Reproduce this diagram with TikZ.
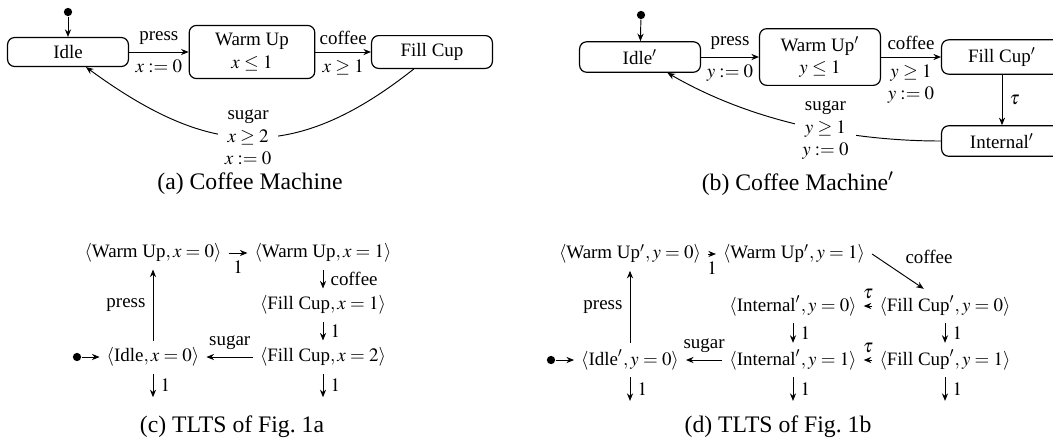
\documentclass[tikz,border=0pt]{standalone}
\usepackage{mathptmx}
\usepackage{fontspec}
\setmainfont{Liberation Serif}
\usetikzlibrary{arrows.meta}
\begin{document}
\begin{tikzpicture}[x=0.422pt, y=-0.422pt,
		arr/.style={-{Stealth[length=3.2pt,width=2.6pt]}},
		locbox/.style={draw, line width=0.5pt, rounded corners=3pt, minimum width=51pt, align=center, font=\footnotesize, inner sep=3.3pt},
		lbl/.style={font=\footnotesize, inner sep=3pt},
		tlts/.style={font=\footnotesize, inner sep=2.8pt},
		initdot/.style={circle, fill, inner sep=0pt, minimum size=3.5pt},
		capt/.style={font=\normalsize}]
		\useasboundingbox (0,0) rectangle (1053,444);
		
		%(a) coffee machine
		\node[initdot] (ai) at (68,12) {};
		\node[locbox] (aidle) at (68,52) {Idle};
		\node[locbox, minimum width=53pt] (awarm) at (252,52) {Warm Up\\$x \le 1$};
		\node[locbox] (afill) at (432,52) {Fill Cup};
		\draw[arr] (ai) -- (aidle);
		\draw[arr] (aidle) -- node[lbl, above]{press} node[lbl, below]{$x := 0$} (awarm);
		\draw[arr] (awarm) -- node[lbl, above]{coffee} node[lbl, below]{$x \ge 1$} (afill);
		\draw[arr] (afill.223) .. controls (290,167) and (205,154) .. node[lbl, fill=white, align=center]{sugar\\$x \ge 2$\\$x := 0$} (aidle.320);
		\node[capt] (capa) at (250,184) {(a) Coffee Machine};
		
		%(b) coffee machine'
		\node[initdot] (bi) at (641,15) {};
		\node[locbox] (bidle) at (640,57) {Idle$'$};
		\node[locbox] (bwarm) at (820,57) {Warm Up$'$\\$y \le 1$};
		\node[locbox] (bfill) at (1002,57) {Fill Cup$'$};
		\node[locbox] (bint) at (1002,141) {Internal$'$};
		\draw[arr] (bi) -- (bidle);
		\draw[arr] (bidle) -- node[lbl, above]{press} node[lbl, below]{$y := 0$} (bwarm);
		\draw[arr] (bwarm) -- node[lbl, above]{coffee} node[lbl, below, align=center]{$y \ge 1$\\$y := 0$} (bfill);
		\draw[arr] (bfill) -- node[lbl, right]{$\tau$} (bint);
		\draw[arr] (bint) .. controls (890,141) and (775,135) .. node[lbl, fill=white, align=center]{sugar\\$y \ge 1$\\$y := 0$} (bidle.330);
		\node[capt] (capb) at (798,184) {(b) Coffee Machine$'$};
		
		%(c) tlts of (a)
		\node[initdot] (ci) at (77,357) {};
		\node[tlts] (cw0) at (153,253) {$\langle\mbox{Warm Up}, x = 0\rangle$};
		\node[tlts] (cw1) at (323,253) {$\langle\mbox{Warm Up}, x = 1\rangle$};
		\node[tlts] (cf1) at (323,305) {$\langle\mbox{Fill Cup}, x = 1\rangle$};
		\node[tlts] (cf2) at (323,357) {$\langle\mbox{Fill Cup}, x = 2\rangle$};
		\node[tlts] (ci0) at (153,357) {$\langle\mbox{Idle}, x = 0\rangle$};
		\draw[arr] (ci) -- (ci0);
		\draw[arr] (cw0) -- node[lbl, below]{$1$} (cw1);
		\draw[arr] (cw1) -- node[lbl, right]{coffee} (cf1);
		\draw[arr] (cf1) -- node[lbl, right]{$1$} (cf2);
		\draw[arr] (cf2) -- node[lbl, above]{sugar} (ci0);
		\draw[arr] (ci0) -- node[lbl, left]{press} (cw0);
		\foreach \s in {ci0, cf2}{
			\coordinate (\s-d) at ([yshift=-10pt]\s.south);
			\draw[arr] (\s) -- node[lbl, right]{$1$} (\s-d);
		}
		\node[capt] (capc) at (232,427) {(c) TLTS of Fig.~1a};
		
		%(d) tlts of (b)
		\node[initdot] (di) at (551,360) {};
		\node[tlts] (dw0) at (630,254) {$\langle\mbox{Warm Up}', y = 0\rangle$};
		\node[tlts] (dw1) at (794,254) {$\langle\mbox{Warm Up}', y = 1\rangle$};
		\node[tlts] (df0) at (945,306) {$\langle\mbox{Fill Cup}', y = 0\rangle$};
		\node[tlts] (di0) at (793,306) {$\langle\mbox{Internal}', y = 0\rangle$};
		\node[tlts] (df1) at (945,360) {$\langle\mbox{Fill Cup}', y = 1\rangle$};
		\node[tlts] (di1) at (793,360) {$\langle\mbox{Internal}', y = 1\rangle$};
		\node[tlts] (didl) at (630,360) {$\langle\mbox{Idle}', y = 0\rangle$};
		\draw[arr] (di) -- (didl);
		\draw[arr] (dw0) -- node[lbl, below]{$1$} (dw1);
		\draw[arr] (dw1.east) -- node[lbl, above right]{coffee} (df0.141);
		\draw[arr] (df0) -- node[lbl, above]{$\tau$} (di0);
		\draw[arr] (df1) -- node[lbl, above]{$\tau$} (di1);
		\draw[arr] (di0) -- node[lbl, right]{$1$} (di1);
		\draw[arr] (df0) -- node[lbl, right]{$1$} (df1);
		\draw[arr] (di1) -- node[lbl, above]{sugar} (didl);
		\draw[arr] (didl) -- node[lbl, left]{press} (dw0);
		\foreach \s in {didl, di1, df1}{
			\coordinate (\s-d) at ([yshift=-10pt]\s.south);
			\draw[arr] (\s) -- node[lbl, right]{$1$} (\s-d);
		}
		\node[capt] (capd) at (778,427) {(d) TLTS of Fig.~1b};
\end{tikzpicture}
\end{document}
